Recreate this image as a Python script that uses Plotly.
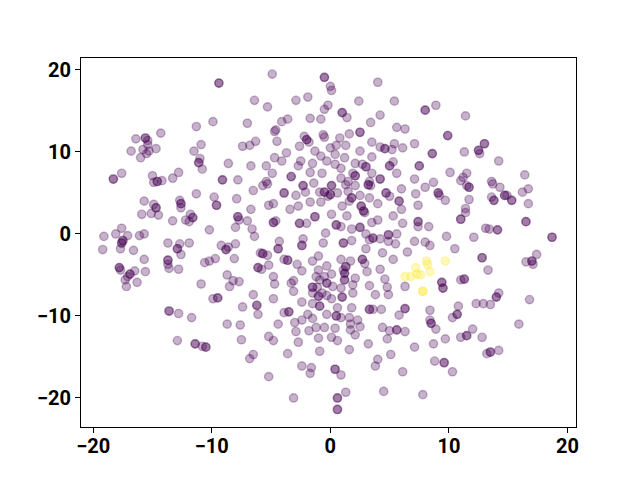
import plotly.graph_objects as go

# (x, y) observations of the embedding; repeated entries are overlapping observations
purple_points = [
    (-11.3, 13.1), (-16.4, 11.6), (-15.6, 11.7), (-15.6, 11.7), (-15.4, 11.4), (-15.4, 10.9),
    (-14.3, 12.3), (-16.8, 10.1), (-15.8, 10.3), (-15.3, 10.1), (-14.7, 10.4), (-15.5, 9.8),
    (-16.0, 9.3), (-10.9, 10.9), (-11.5, 10.1), (-11.0, 9.2), (-11.1, 8.7), (-11.1, 8.7),
    (-10.8, 7.9), (-17.6, 7.4), (-18.3, 6.7), (-18.3, 6.7), (-15.0, 7.1), (-14.9, 6.3),
    (-14.6, 6.4), (-14.6, 6.4), (-14.2, 6.5), (-13.3, 6.8), (-12.8, 7.5),
    (-9.4, 18.4), (-9.4, 18.4), (-4.9, 19.5), (-0.5, 19.1), (-0.5, 19.1), (0.0, 18.0), (0.1, 17.5),
    (-6.4, 16.3), (-5.3, 15.5), (-2.9, 16.3), (-1.9, 16.7), (-9.9, 13.7), (-7.0, 13.5),
    (-4.1, 13.7), (-3.6, 14.0), (-4.6, 12.7), (-4.7, 12.5), (-1.7, 14.1), (-0.8, 14.0),
    (-0.5, 15.2), (-0.2, 15.7), (-7.4, 10.7), (-6.8, 10.8), (-6.3, 11.3), (-4.5, 11.3),
    (-2.6, 10.7), (-2.2, 11.9), (-2.0, 11.5), (-2.0, 11.5), (-1.8, 11.2), (-0.6, 12.1),
    (-0.5, 11.8), (-1.3, 10.1), (-0.8, 9.5), (-0.3, 8.9), (-3.7, 9.9), (-4.7, 9.3),
    (-4.1, 8.9), (-2.5, 8.9), (-2.7, 8.3), (-1.5, 8.6), (-8.6, 8.6), (-6.7, 8.3),
    (-5.4, 8.3), (-4.9, 7.4), (-3.3, 7.0), (-3.3, 7.0), (-1.7, 7.5), (-0.7, 7.4),
    (-9.1, 6.6), (-9.1, 6.6), (-7.8, 6.6), (-5.4, 6.4),
    (4.0, 18.5), (2.4, 16.2), (5.4, 16.2), (1.0, 14.8), (1.0, 14.8), (1.4, 14.2), (4.2, 14.5),
    (3.4, 13.6), (8.0, 15.1), (8.0, 15.1), (8.9, 15.7), (5.6, 13.0), (6.3, 12.8),
    (9.9, 12.0), (9.9, 12.0), (0.8, 11.7), (1.6, 12.2), (2.5, 12.4), (2.5, 12.4),
    (0.0, 10.5), (0.5, 10.8), (1.3, 10.8), (3.5, 11.2), (4.2, 10.6), (4.6, 10.4), (4.6, 10.4),
    (5.2, 10.3), (5.4, 11.0), (6.1, 10.5), (7.1, 11.0), (8.6, 9.8), (8.6, 9.8),
    (0.4, 9.7), (1.2, 9.3), (2.5, 10.1), (3.5, 9.4), (0.4, 8.5), (0.9, 8.0), (2.1, 8.6),
    (2.7, 8.5), (3.0, 8.2), (3.0, 8.2), (5.0, 8.3), (5.0, 8.3), (5.3, 8.8), (7.5, 8.3), (7.5, 8.3),
    (3.5, 7.4), (1.9, 7.4), (2.1, 7.1), (2.1, 7.1), (5.6, 7.4), (7.1, 6.7), (10.1, 7.5),
    (0.9, 6.8), (1.5, 6.4), (4.2, 6.7), (4.2, 6.7), (3.3, 6.4), (8.7, 6.3),
    (11.4, 14.4), (13.0, 11.0), (13.0, 11.0), (12.5, 10.2), (12.5, 10.2), (12.6, 9.8),
    (11.3, 10.0), (14.2, 8.9), (16.4, 7.2), (11.5, 7.4), (11.2, 6.9), (13.6, 6.4), (11.0, 6.5),
    (-11.3, 4.9), (-15.7, 4.0), (-14.9, 3.6), (-14.7, 3.2), (-14.7, 3.2), (-15.9, 2.4),
    (-15.1, 2.5), (-14.5, 2.3), (-12.7, 4.1), (-12.6, 3.7), (-12.6, 3.7), (-12.6, 3.2),
    (-13.3, 1.6), (-11.8, 2.4), (-11.6, 2.0), (-11.6, 2.0), (-12.2, 1.7), (-11.9, 1.5),
    (-17.6, 0.7), (-19.1, -0.3), (-18.1, 0.0), (-17.1, -0.2), (-17.5, -0.8), (-17.5, -0.8),
    (-17.6, -1.1), (-17.6, -1.1), (-17.7, -1.8), (-19.2, -1.9), (-16.6, -2.0), (-16.1, -0.2),
    (-15.7, 0.0), (-13.7, -1.1), (-12.7, -1.2), (-12.9, -1.8), (-12.9, -1.8), (-12.6, -2.5),
    (-11.9, -1.1), (-15.7, -3.1), (-13.7, -3.2), (-13.7, -3.2), (-13.7, -3.7), (-13.6, -4.2),
    (-12.8, -4.3), (-17.8, -4.1), (-17.8, -4.1), (-17.7, -4.4), (-16.5, -4.5), (-16.9, -4.9),
    (-16.9, -4.9), (-17.1, -5.2), (-15.6, -4.6), (-17.3, -5.6), (-16.3, -5.9), (-17.2, -6.4),
    (-10.9, -6.1), (-10.6, -3.5),
    (-6.5, 5.3), (-5.7, 5.9), (-5.3, 6.1), (-3.9, 5.0), (-3.9, 5.0), (-2.9, 4.7), (-2.1, 5.1),
    (-2.3, 5.9), (-2.3, 5.9), (-1.4, 6.2), (-1.7, 3.9), (-0.9, 5.1), (-0.5, 5.1), (-0.5, 5.1),
    (-0.8, 3.9), (-0.2, 4.6), (-9.8, 4.5), (-9.6, 3.5), (-9.6, 3.5), (-7.9, 4.3), (-6.7, 3.0),
    (-5.2, 3.5), (-4.8, 3.7), (-3.4, 3.0), (-2.7, 3.4), (-1.3, 2.1), (-1.3, 2.1),
    (-2.6, 1.3), (-2.6, 1.3), (-2.0, 1.3), (-0.4, 0.1), (-7.8, 2.1), (-7.8, 2.1), (-7.7, 1.7),
    (-7.0, 1.6), (-8.0, 0.8), (-10.2, 0.5), (-6.6, 0.6), (-6.4, -0.3), (-4.8, 1.4), (-4.8, 1.4),
    (-4.6, 1.6), (-4.3, -0.9), (-4.4, -1.8), (-4.4, -1.8), (-2.3, -0.6), (-2.4, -1.4), (-2.4, -1.4),
    (-0.6, -1.1), (-9.2, -1.4), (-8.8, -1.9), (-8.8, -1.9), (-8.6, -1.6), (-8.0, -1.2),
    (-5.9, -2.3), (-5.7, -2.4), (-5.7, -2.4), (-5.3, -2.6), (-10.2, -3.3), (-9.7, -3.0),
    (-8.1, -3.0), (-3.9, -3.1), (-3.6, -3.2), (-3.6, -3.2), (-1.5, -3.3), (-1.0, -2.7),
    (-6.1, -4.1), (-6.1, -4.1), (-5.8, -4.3), (-5.2, -3.8), (-2.8, -3.7), (-2.4, -4.5),
    (-1.0, -4.4), (-0.3, -3.9), (-8.7, -5.0), (-8.2, -5.7), (-7.7, -5.8), (-8.5, -6.4),
    (-4.8, -5.2), (-4.7, -6.1), (-3.1, -5.7), (-3.3, -6.0), (-1.2, -5.2), (-0.9, -5.6),
    (-0.5, -5.2), (-1.5, -6.5), (-1.5, -6.5), (-1.1, -6.5), (-0.3, -6.0), (-0.3, -6.0),
    (-3.1, -7.0), (-1.5, -7.2), (-1.0, -7.6), (-1.0, -7.6), (-0.7, -7.2), (-0.3, -7.5),
    (-6.5, -7.4), (-9.5, -7.8), (-9.5, -7.8), (-9.9, -7.9), (-4.8, -7.9), (-2.4, -8.3),
    (-1.5, -8.5), (-0.9, -8.8), (-0.9, -8.8), (-6.2, -8.7), (-6.2, -8.7),
    (0.1, 5.9), (0.1, 5.9), (1.3, 6.0), (2.1, 5.9), (3.2, 6.0), (3.2, 6.0), (3.4, 5.9),
    (8.0, 5.7), (0.0, 4.8), (0.0, 4.8), (0.6, 5.0), (1.5, 5.2), (1.6, 4.0), (1.8, 4.4), (1.8, 4.4),
    (2.5, 4.7), (3.3, 4.4), (4.7, 5.0), (4.7, 5.0), (5.0, 4.6), (6.0, 5.5), (7.2, 4.9),
    (9.1, 5.0), (9.1, 5.0), (9.2, 4.7), (9.7, 4.1), (5.8, 4.0), (5.8, 4.0), (6.0, 3.0),
    (7.4, 3.5), (4.0, 3.7), (1.0, 3.4), (2.6, 3.4), (2.6, 3.4), (2.8, 2.8), (2.8, 2.8),
    (2.9, 2.6), (1.4, 2.2), (0.1, 2.4), (3.5, 1.4), (4.0, 1.7), (5.3, 2.2), (6.1, 1.3),
    (7.4, 1.5), (7.4, 1.5), (7.4, 0.9), (8.3, 0.9), (0.5, 1.1), (0.5, 1.1), (0.9, 0.9),
    (1.8, 0.6), (2.5, 0.8), (2.5, 0.8), (3.0, 0.0), (3.6, -0.5), (3.6, -0.5), (3.3, -0.7),
    (4.2, -0.6), (4.9, -0.1), (4.9, -0.1), (5.6, 0.0), (4.9, -0.9), (5.5, -1.2), (1.8, -0.8),
    (1.1, -1.1), (1.1, -1.1), (7.1, -0.9), (8.0, -1.0), (8.4, -1.4), (9.8, -0.3), (10.5, -1.8),
    (3.0, -1.8), (4.4, -2.3), (6.5, -2.2), (0.9, -3.1), (1.7, -3.3), (2.7, -3.1), (2.7, -3.1),
    (2.9, -3.6), (5.3, -3.1), (4.2, -4.3), (1.3, -4.0), (1.3, -4.0), (1.1, -4.4), (3.1, -4.6),
    (0.1, -4.9), (1.2, -4.8), (1.2, -4.8), (2.1, -5.4), (1.2, -5.6), (1.2, -5.6), (3.3, -6.3),
    (4.6, -5.5), (1.9, -6.2), (4.8, -6.5), (6.3, -6.4), (0.9, -6.6), (0.2, -6.4),
    (1.0, -7.7), (1.0, -7.7), (1.9, -7.2), (3.8, -7.4), (4.9, -7.4), (9.4, -5.9), (9.4, -5.9),
    (9.5, -6.6), (9.5, -6.6), (0.1, -7.9),
    (11.5, 5.9), (11.7, 5.7), (11.7, 5.7), (13.7, 6.1), (14.3, 5.7), (16.2, 5.1), (16.7, 5.5),
    (11.7, 4.2), (13.6, 4.5), (13.8, 4.1), (13.8, 4.1), (14.7, 4.7), (14.7, 4.7), (14.9, 4.7),
    (15.3, 4.1), (15.3, 4.1), (16.7, 3.7), (11.4, 3.1), (11.4, 2.6), (11.0, 1.8), (11.0, 1.8),
    (16.5, 1.5), (16.5, 1.5), (13.1, 0.7), (13.4, 0.6), (14.1, 0.5), (14.1, 0.5), (12.1, -0.4),
    (18.7, -0.4), (18.7, -0.4), (12.8, -2.9), (12.8, -2.9), (16.5, -3.4), (17.0, -3.3), (17.0, -3.3),
    (17.1, -3.7), (17.4, -2.5), (13.3, -4.4), (11.0, -5.6), (11.3, -5.5), (11.3, -5.5),
    (14.2, -7.2), (14.0, -7.7), (14.0, -7.7), (16.8, -8.0), (12.3, -8.5), (12.9, -8.5),
    (13.5, -8.6), (10.8, -8.8),
    (-13.6, -9.4), (-13.6, -9.4), (-12.8, -9.7), (-11.7, -10.2), (-12.9, -13.0),
    (-11.4, -13.4), (-11.4, -13.4), (-10.8, -13.7),
    (-7.4, -8.9), (-6.1, -9.8), (-8.7, -11.0), (-7.6, -11.1), (-7.5, -12.9), (-5.2, -12.5),
    (-4.8, -13.0), (-4.4, -11.0), (-3.9, -9.6), (-3.5, -9.5), (-3.5, -9.5), (-3.0, -10.8),
    (-2.4, -10.5), (-1.9, -9.8), (-1.5, -10.3), (-0.3, -9.8), (-2.9, -11.9), (-1.8, -11.8),
    (-1.2, -11.4), (-0.5, -11.4), (-1.0, -12.7), (-2.7, -13.2), (-3.6, -14.6), (-0.9, -14.3),
    (-10.5, -13.8), (-10.5, -13.8), (-6.5, -14.7), (-6.8, -15.2), (-2.4, -16.1), (-1.6, -16.3),
    (-1.7, -17.0), (-5.2, -17.4), (-3.1, -20.0),
    (0.6, -9.0), (1.8, -9.0), (3.3, -9.2), (3.3, -9.2), (3.6, -9.2), (4.3, -9.2),
    (6.3, -9.1), (6.3, -9.1), (5.8, -9.9), (8.4, -9.3), (0.5, -10.0), (0.5, -10.0), (0.9, -10.2),
    (1.6, -10.2), (2.3, -10.5), (0.4, -11.5), (1.7, -11.0), (1.7, -11.7), (2.5, -11.3),
    (2.1, -12.3), (0.1, -12.6), (0.6, -13.0), (4.4, -11.4), (5.0, -11.8), (5.6, -11.7), (5.6, -11.7),
    (6.3, -11.9), (4.8, -12.8), (3.2, -13.4), (1.6, -14.1), (5.1, -14.7), (4.0, -15.3),
    (3.8, -16.1), (7.1, -13.8), (8.4, -10.5), (8.5, -10.9), (8.5, -10.9), (8.9, -11.6),
    (9.7, -12.8), (8.7, -13.4), (10.3, -10.2), (8.8, -15.5), (9.6, -15.7), (9.6, -15.7),
    (10.3, -16.8), (0.4, -16.5), (0.4, -16.5), (0.9, -17.2), (6.1, -16.8), (4.5, -19.2),
    (7.8, -19.6), (1.3, -19.3), (0.6, -20.0), (0.6, -20.0), (0.6, -21.4), (0.6, -21.4),
    (10.7, -9.8), (10.7, -9.8), (15.9, -11.0), (12.0, -11.6), (11.5, -12.4), (11.5, -12.4),
    (11.0, -12.6), (12.8, -12.6), (14.2, -14.2), (13.5, -14.4), (13.5, -14.4), (13.2, -14.6),
]

yellow_points = [
    (8.1, -3.3), (8.2, -3.7), (9.7, -3.3), (7.2, -4.1), (8.4, -4.6), (6.3, -5.2),
    (6.8, -5.2), (7.3, -4.9), (7.6, -5.0), (7.8, -7.0), (7.8, -7.0),
]

x_ticks = [-20, -10, 0, 10, 20]
y_ticks = [-20, -10, 0, 10, 20]

purple_x = [p[0] for p in purple_points]
purple_y = [p[1] for p in purple_points]
yellow_x = [p[0] for p in yellow_points]
yellow_y = [p[1] for p in yellow_points]

ALPHA = 0.3
purple = f"rgba(68,1,84,{ALPHA})"
yellow = f"rgba(253,231,37,{ALPHA})"

fig = go.Figure()
fig.add_trace(go.Scatter(
    x=purple_x, y=purple_y, mode="markers", showlegend=False, hoverinfo="skip",
    marker=dict(size=8.3, color=purple, line=dict(color=purple, width=1.4)),
))
fig.add_trace(go.Scatter(
    x=yellow_x, y=yellow_y, mode="markers", showlegend=False, hoverinfo="skip",
    marker=dict(size=8.3, color=yellow, line=dict(color=yellow, width=1.4)),
))

tickfont = dict(family="Roboto", size=20, color="black", weight="bold")
axis_common = dict(
    showgrid=False, zeroline=False, showline=True, mirror=True,
    linecolor="black", linewidth=1, ticks="outside", ticklen=5, tickwidth=1,
    tickcolor="black", tickfont=tickfont,
)
fig.update_xaxes(range=[-21.03, 20.72], tickvals=x_ticks, ticklabelstandoff=-4, **axis_common)
fig.update_yaxes(range=[-23.54, 21.46], tickvals=y_ticks, **axis_common)

# the page body adds an 8px offset, so margins are set to land the frame at
# x 81..576 and y 58..427 in the 640x480 window
fig.update_layout(
    width=640, height=480,
    margin=dict(l=73, r=72, t=50, b=61),
    plot_bgcolor="white", paper_bgcolor="white",
)

fig.write_html("out.html")
